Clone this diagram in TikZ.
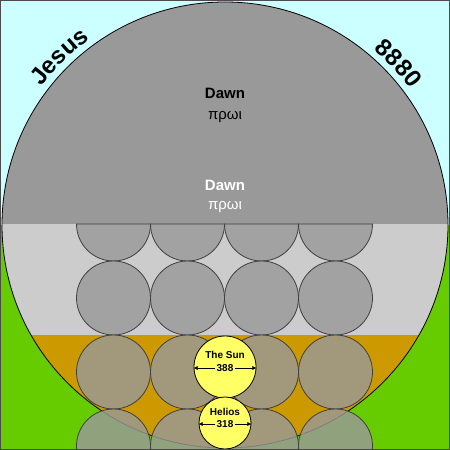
\documentclass[tikz,border=0pt]{standalone}
\usepackage{fontspec}
\setmainfont{Liberation Sans}
\usetikzlibrary{decorations.text, arrows.meta}

\definecolor{sky}{HTML}{CCFFFF}
\definecolor{grass}{HTML}{66CC00}
\definecolor{dawngray}{HTML}{999999}
\definecolor{bandgray}{HTML}{CCCCCC}
\definecolor{gold}{HTML}{CC9900}
\definecolor{sunyellow}{HTML}{FFFF66}

\begin{document}
\begin{tikzpicture}[x=1pt, y=1pt,
    ball/.style={draw=black!75, line width=0.8pt, fill=black!40, fill opacity=0.82},
    orb/.style={circle, draw=black, line width=0.8pt, fill=sunyellow, inner sep=0pt},
    tag/.style={font=\bfseries\fontsize{10}{10}\selectfont, inner sep=1pt},
    dawn/.style={font=\fontsize{15}{15}\selectfont, inner sep=0pt},
    rim/.style={decorate, decoration={text along path, text align=center, text={|\bfseries\fontsize{24}{24}\selectfont|#1}}}]
      \clip (0,0) rectangle (450,450);
      \fill[sky] (0,225) rectangle (450,450);
      \fill[grass] (0,0) rectangle (450,225);
      \begin{scope}
      \clip (225,225) circle [radius=223];
      \fill[dawngray] (0,226) rectangle (450,450);
      \fill[bandgray] (0,115) rectangle (450,226);
      \fill[gold] (0,0) rectangle (450,115);
      \end{scope}
      \draw[line width=0.8pt] (225,225) circle [radius=223];
      % half balls under the dawn line
      \path[ball] (76.5,226) arc [start angle=180, end angle=360, radius=37] -- cycle;
      \path[ball] (150.5,226) arc [start angle=180, end angle=360, radius=37] -- cycle;
      \path[ball] (224.5,226) arc [start angle=180, end angle=360, radius=37] -- cycle;
      \path[ball] (298.5,226) arc [start angle=180, end angle=360, radius=37] -- cycle;
      % full balls
      \path[ball] (113.5,152) circle [radius=37];
      \path[ball] (187.5,152) circle [radius=37];
      \path[ball] (261.5,152) circle [radius=37];
      \path[ball] (335.5,152) circle [radius=37];
      \path[ball] (113.5,78) circle [radius=37];
      \path[ball] (187.5,78) circle [radius=37];
      \path[ball] (261.5,78) circle [radius=37];
      \path[ball] (335.5,78) circle [radius=37];
      \path[ball] (113.5,4) circle [radius=37];
      \path[ball] (187.5,4) circle [radius=37];
      \path[ball] (261.5,4) circle [radius=37];
      \path[ball] (335.5,4) circle [radius=37];
      % the sun and helios
      \node[orb, minimum size=62pt] (sun) at (225,83) {};
      \node[orb, minimum size=52pt] (helios) at (225,27) {};
      \node[tag] (sunname) at (225,95) {The Sun};
      \node[tag] (sunnum) at (225,82) {388};
      \node[tag] (heliosname) at (225,38) {Helios};
      \node[tag] (heliosnum) at (225,26) {318};
      \draw[-{Latex[length=4pt, width=4pt]}] (sunnum.west) -- (sunnum.west -| sun.west);
      \draw[-{Latex[length=4pt, width=4pt]}] (sunnum.east) -- (sunnum.east -| sun.east);
      \draw[-{Latex[length=4pt, width=4pt]}] (heliosnum.west) -- (heliosnum.west -| helios.west);
      \draw[-{Latex[length=4pt, width=4pt]}] (heliosnum.east) -- (heliosnum.east -| helios.east);
      % dawn labels
      \node[dawn, font=\bfseries\fontsize{15}{15}\selectfont] (dawnA) at (225,357) {Dawn};
      \node[dawn] (greekA) at (225,333) {πρωι};
      \node[dawn, white, font=\bfseries\fontsize{15}{15}\selectfont] (dawnB) at (225,265) {Dawn};
      \node[dawn, white] (greekB) at (225,243) {πρωι};
      % names on the rim
      \path[rim=Jesus] (225,225) ++(159.5:230) arc [start angle=159.5, end angle=109.5, radius=230];
      \path[rim=8880] (225,225) ++(68:230) arc [start angle=68, end angle=18, radius=230];
      \draw[black!70, line width=1pt] (0.5,0.5) rectangle (449.5,449.5);
    \end{tikzpicture}
\end{document}
